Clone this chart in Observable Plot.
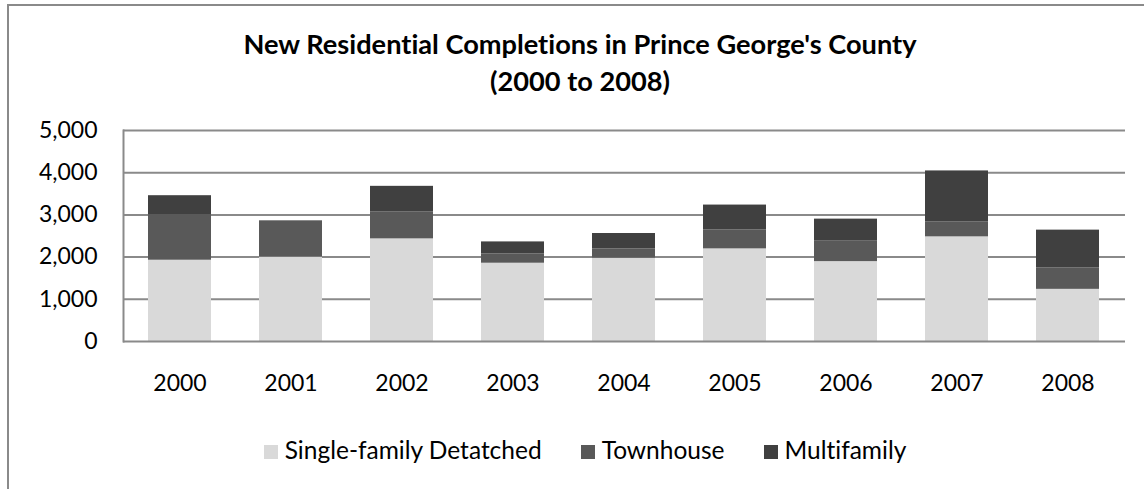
<!DOCTYPE html>
<html>
<head>
<meta charset="utf-8">
<script src="https://cdn.jsdelivr.net/npm/d3@7"></script>
<script src="https://cdn.jsdelivr.net/npm/@observablehq/plot@0.6"></script>
<style>
  html, body { margin: 0; padding: 0; background: #fff; }
  #page { position: relative; width: 1144px; height: 489px; overflow: hidden; font-family: Lato, "Open Sans", sans-serif; color: #000; font-variant-ligatures: none; }
  #border { position: absolute; left: 7px; top: 4px; width: 1300px; height: 600px; border-left: 2px solid #8a8a8a; border-top: 2px solid #8a8a8a; }
  #title { position: absolute; left: 380px; width: 400px; top: 25px; text-align: center; font-weight: bold; font-size: 27.2px; line-height: 37px; white-space: nowrap; }
  #title div { width: 400px; display: flex; justify-content: center; }
  #chart { position: absolute; left: 0; top: 100px; }
  #legend { position: absolute; left: 0; width: 1170px; top: 436px; display: flex; justify-content: center; gap: 39px; font-size: 24.5px; line-height: 28px; }
  .item { display: flex; align-items: center; white-space: nowrap; }
  .sw { width: 14px; height: 14px; margin-right: 7px; margin-top: 3px; }
  svg text { font-variant-ligatures: none; }
</style>
</head>
<body>
<div id="page">
  <div id="border"></div>
  <div id="title"><div>New Residential Completions in Prince George's County</div><div>(2000 to 2008)</div></div>
  <div id="chart"></div>
  <div id="legend"></div>
</div>
<script>
// Completions per year, by housing type
const years = ["2000", "2001", "2002", "2003", "2004", "2005", "2006", "2007", "2008"];
const singleFamily = [1926, 2000, 2432, 1855, 1973, 2195, 1893, 2480, 1236];
const townhouse = [1074, 860, 642, 220, 222, 451, 485, 356, 507];
const multifamily = [455, 0, 603, 285, 364, 587, 522, 1206, 896];

const seriesNames = ["Single-family Detatched", "Townhouse", "Multifamily"];
const seriesColors = ["#d9d9d9", "#595959", "#404040"];
const yTicks = [0, 1000, 2000, 3000, 4000, 5000];

const seriesValues = [singleFamily, townhouse, multifamily];
const rows = seriesNames.flatMap((name, s) =>
  years.map((year, i) => ({year, type: name, value: seriesValues[s][i]}))
);

const gridColor = "#8a8a8a";

const chart = Plot.plot({
  width: 1144,
  height: 310,
  marginTop: 30,
  marginBottom: 69,
  marginLeft: 123,
  marginRight: 19,
  style: {fontFamily: "Lato, 'Open Sans', sans-serif", fontSize: "23px", color: "#000", background: "transparent"},
  x: {domain: years, paddingInner: 0.4286, paddingOuter: 0.2143, label: null},
  y: {domain: [0, 5000], label: null},
  color: {domain: seriesNames, range: seriesColors},
  marks: [
    Plot.ruleY(yTicks.filter(d => d > 0), {y: d => d, stroke: gridColor, strokeWidth: 2}),
    Plot.barY(rows, {x: "year", y: "value", fill: "type", order: seriesNames}),
    Plot.ruleY([0], {stroke: gridColor, strokeWidth: 2}),
    Plot.frame({anchor: "left", stroke: gridColor, strokeWidth: 2}),
    Plot.axisY({ticks: yTicks, tickFormat: d3.format(","), tickSize: 0, tickPadding: 26, fontSize: 23, fill: "#000", label: null}),
    Plot.axisX({tickSize: 0, tickPadding: 33, fontSize: 23, fill: "#000", label: null})
  ]
});
document.getElementById("chart").appendChild(chart);

// Legend below the chart
const legend = document.getElementById("legend");
seriesNames.forEach((name, i) => {
  const item = document.createElement("div");
  item.className = "item";
  const sw = document.createElement("span");
  sw.className = "sw";
  sw.style.background = seriesColors[i];
  const label = document.createElement("span");
  label.textContent = name;
  item.appendChild(sw);
  item.appendChild(label);
  legend.appendChild(item);
});
</script>
</body>
</html>
